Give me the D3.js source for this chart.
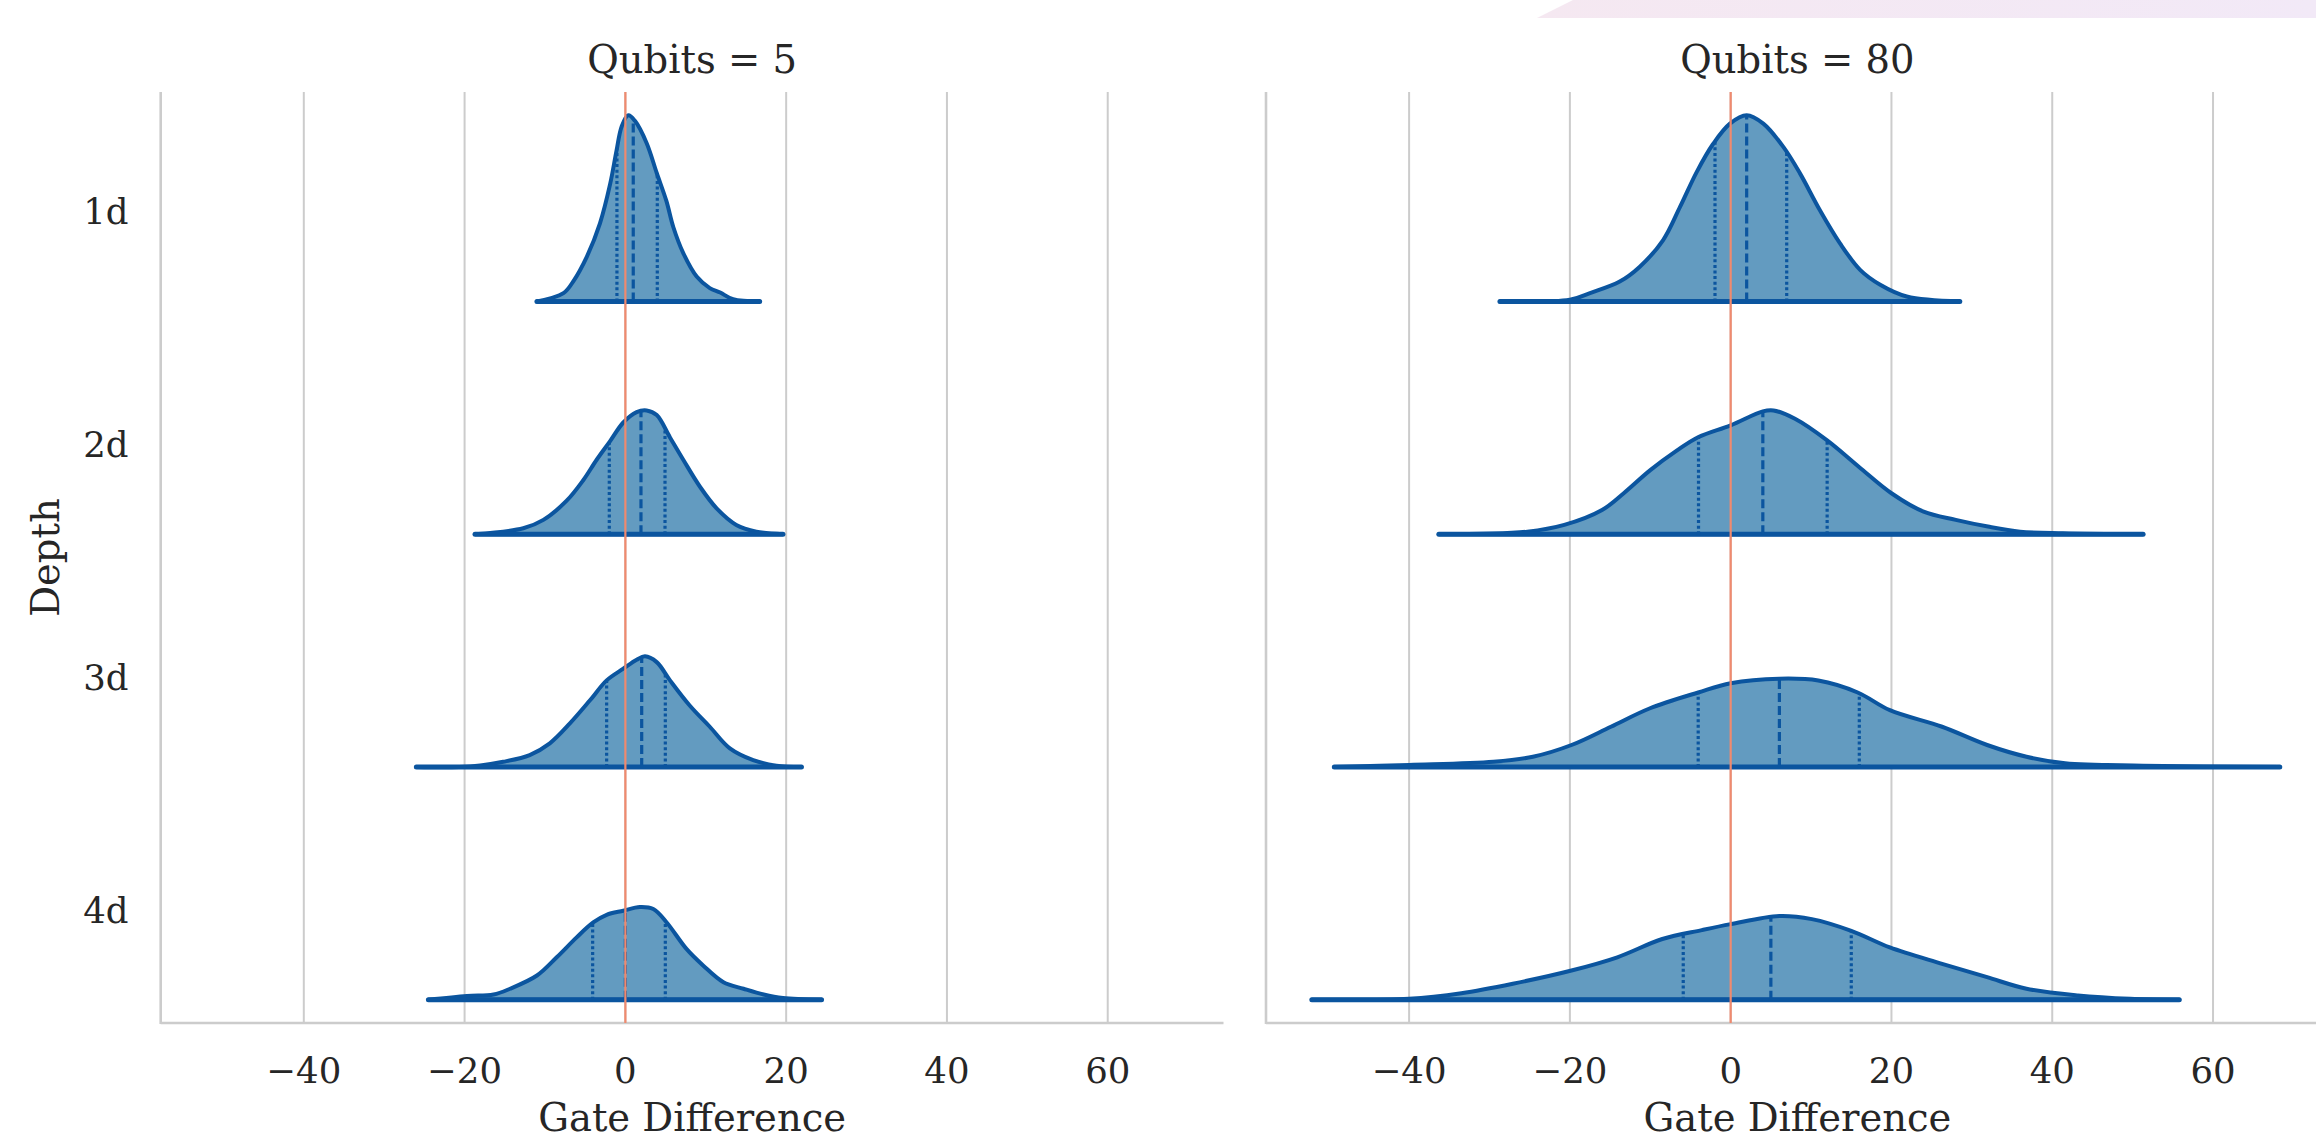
<!DOCTYPE html>
<html>
<head>
<meta charset="utf-8">
<script src="https://cdn.jsdelivr.net/npm/d3@7"></script>
<style>
  body { margin: 0; background: #fff; }
  text { font-family: "DejaVu Serif", serif; fill: #262626; }
</style>
</head>
<body>
<svg id="svg" width="2316" height="1139"></svg>
<script>
var depths = ["1d", "2d", "3d", "4d"];
var titles = ["Qubits = 5", "Qubits = 80"];
var xTicks = [-40, -20, 0, 20, 40, 60];

// violin outlines: [gate difference, relative density]
var q5_1d = [[-11.0,0],[-7.7,0.045],[-6.5,0.107],[-4.8,0.24],[-3.16,0.42],[-1.9,0.63],[-1.1,0.81],[-0.46,0.94],[0.36,1.0],[1.19,0.97],[2.65,0.85],[3.9,0.69],[5.1,0.54],[5.96,0.40],[7.2,0.26],[8.87,0.134],[10.5,0.072],[11.8,0.048],[13.4,0.012],[16.7,0]];
var q5_2d = [[-18.7,0],[-12.7,0.032],[-10.2,0.077],[-7.3,0.18],[-5.24,0.29],[-3.57,0.40],[-1.9,0.50],[-0.26,0.60],[1.4,0.656],[2.65,0.665],[3.9,0.64],[5.55,0.52],[7.2,0.40],[9.28,0.255],[11.35,0.139],[13.8,0.05],[16.3,0.014],[19.6,0]];
var q5_3d = [[-26.0,0],[-19.3,0.002],[-15.2,0.028],[-11.9,0.064],[-9.4,0.127],[-6.9,0.234],[-4.4,0.358],[-2.33,0.465],[-0.26,0.528],[1.4,0.576],[2.44,0.594],[3.9,0.563],[5.55,0.465],[8.0,0.33],[10.5,0.216],[13.0,0.10],[15.9,0.037],[18.8,0.007],[21.9,0]];
var q5_4d = [[-24.5,0],[-19.7,0.02],[-16.4,0.028],[-14.35,0.059],[-11.0,0.13],[-8.54,0.228],[-6.06,0.335],[-4.0,0.415],[-2.33,0.456],[-0.26,0.478],[1.8,0.498],[3.47,0.487],[5.14,0.415],[7.6,0.273],[9.7,0.183],[12.2,0.094],[14.7,0.059],[17.2,0.028],[19.6,0.009],[24.4,0]];

var q80_1d = [[-28.7,0],[-20.0,0.009],[-17.5,0.045],[-13.8,0.107],[-11.3,0.187],[-8.4,0.33],[-6.3,0.508],[-4.23,0.695],[-2.17,0.847],[-0.09,0.955],[1.99,1.0],[4.06,0.955],[6.55,0.83],[8.62,0.688],[11.1,0.49],[13.6,0.312],[16.1,0.17],[18.6,0.09],[21.9,0.027],[28.5,0]];
var q80_2d = [[-36.3,0],[-25.3,0.014],[-20.7,0.05],[-16,0.13],[-13.3,0.22],[-10,0.344],[-6.67,0.45],[-4,0.522],[0,0.585],[4,0.66],[5.33,0.665],[8,0.62],[12,0.504],[16,0.36],[20,0.22],[24,0.121],[28,0.077],[32,0.041],[36,0.014],[41.3,0.005],[51.3,0]];
var q80_3d = [[-49.3,0],[-40,0.011],[-29.5,0.028],[-24.6,0.055],[-19.8,0.118],[-14.9,0.216],[-10.1,0.314],[-4.04,0.40],[0,0.45],[6.06,0.474],[10.9,0.464],[15.8,0.40],[19.8,0.305],[26.3,0.216],[31.9,0.118],[36.8,0.055],[41.6,0.02],[51.3,0.007],[68.3,0]];
var q80_4d = [[-52.1,0],[-40,0.005],[-33.5,0.035],[-27.1,0.086],[-19.8,0.157],[-14.1,0.228],[-8.5,0.326],[-3.6,0.374],[0,0.406],[6.06,0.45],[10.1,0.433],[15,0.37],[19.8,0.281],[26.3,0.193],[31.9,0.121],[36.8,0.059],[43.2,0.023],[49.7,0.005],[55.8,0]];

// [q1, median, q3] per depth
var q5_quart = [[-1.05,0.98,3.97],[-2.0,1.94,4.93],[-2.33,2.03,4.97],[-4.07,0,4.97]];
var q80_quart = [[-1.95,1.99,6.97],[-4,4,12],[-4.04,6.06,16.0],[-5.9,5.0,15.0]];

var violins = [[q5_1d, q5_2d, q5_3d, q5_4d], [q80_1d, q80_2d, q80_3d, q80_4d]];
var quarts = [q5_quart, q80_quart];

var fillCol = "#639bc0", lineCol = "#0b559f", refCol = "#f08a6e";
var panelX = [160.7, 1266];
var yTop = 92, yBottom = 1023;

var svg = d3.select("#svg");

// faint band at top right
var grad = svg.append("defs").append("linearGradient").attr("id", "band");
grad.append("stop").attr("offset", "0%").attr("stop-color", "#f5e8f1");
grad.append("stop").attr("offset", "100%").attr("stop-color", "#f2e9f7");
svg.append("path")
  .attr("d", "M1573,0 L2316,0 L2316,18 L1537,18 Z")
  .attr("fill", "url(#band)");

var x = d3.scaleLinear().domain([-57.8, 74.4]).range([0, 1062.8]);
var y = d3.scaleBand().domain(depths).range([yTop, yBottom]).padding(0);
var bw = y.bandwidth();
var h = d3.scaleLinear().domain([0, 1]).range([0, 0.8 * bw]);

function densAt(pts, v) {
  for (var i = 1; i < pts.length; i++) {
    if (v <= pts[i][0]) {
      var a = pts[i-1], b = pts[i];
      return a[1] + (b[1] - a[1]) * (v - a[0]) / (b[0] - a[0]);
    }
  }
  return 0;
}

titles.forEach(function(t, p) {
  var g = svg.append("g").attr("transform", "translate(" + panelX[p] + ",0)");

  // grid
  g.selectAll(".grid").data(xTicks).enter().append("line")
    .attr("x1", function(d) { return x(d); })
    .attr("x2", function(d) { return x(d); })
    .attr("y1", yTop).attr("y2", yBottom)
    .attr("stroke", "#cccccc").attr("stroke-width", 2);

  // spines
  g.append("line").attr("x1", 0).attr("x2", 0).attr("y1", yTop).attr("y2", yBottom + 1)
    .attr("stroke", "#cccccc").attr("stroke-width", 2.6);
  g.append("line").attr("x1", 0).attr("x2", x.range()[1]).attr("y1", yBottom).attr("y2", yBottom)
    .attr("stroke", "#cccccc").attr("stroke-width", 2.6);

  // x tick labels
  g.selectAll(".xt").data(xTicks).enter().append("text")
    .attr("x", function(d) { return x(d); })
    .attr("y", 1082.5)
    .attr("text-anchor", "middle")
    .attr("font-size", 35.5)
    .text(function(d) { return d < 0 ? "\u2212" + Math.abs(d) : d; });

  g.append("text").attr("x", x.range()[1] / 2).attr("y", 1131)
    .attr("text-anchor", "middle").attr("font-size", 38.5)
    .text("Gate Difference");

  g.append("text").attr("x", x.range()[1] / 2).attr("y", 72.5)
    .attr("text-anchor", "middle").attr("font-size", 38.5)
    .text(t);

  // violins
  depths.forEach(function(dep, i) {
    var base = y(dep) + bw / 2 + 0.4 * bw;
    var pts = violins[p][i];
    var area = d3.area()
      .x(function(d) { return x(d[0]); })
      .y0(base)
      .y1(function(d) { return Math.min(base, base - h(d[1])); })
      .curve(d3.curveCatmullRom.alpha(0.5));
    g.append("path").datum(pts)
      .attr("d", area)
      .attr("fill", fillCol)
      .attr("stroke", lineCol)
      .attr("stroke-width", 4)
      .attr("stroke-linejoin", "round")
      .attr("stroke-linecap", "round");

    // flat side drawn a bit heavier, as in the original
    g.append("line")
      .attr("x1", x(pts[0][0])).attr("x2", x(pts[pts.length - 1][0]))
      .attr("y1", base).attr("y2", base)
      .attr("stroke", lineCol).attr("stroke-width", 5)
      .attr("stroke-linecap", "round");

    quarts[p][i].forEach(function(q, k) {
      g.append("line")
        .attr("x1", x(q)).attr("x2", x(q))
        .attr("y1", base).attr("y2", base - h(densAt(pts, q)))
        .attr("stroke", lineCol)
        .attr("stroke-width", 3.2)
        .attr("stroke-dasharray", k == 1 ? "9,4" : "3,2.6");
    });
  });

  // reference line at zero
  g.append("line").attr("x1", x(0)).attr("x2", x(0)).attr("y1", yTop).attr("y2", yBottom)
    .attr("stroke", refCol).attr("stroke-width", 2.2);
});

// y tick labels, left panel only
svg.selectAll(".yt").data(depths).enter().append("text")
  .attr("x", 128.5)
  .attr("y", function(d) { return y(d) + bw / 2 + 16; })
  .attr("text-anchor", "end")
  .attr("font-size", 35.5)
  .text(function(d) { return d; });

svg.append("text")
  .attr("transform", "translate(59," + (yTop + yBottom) / 2 + ") rotate(-90)")
  .attr("text-anchor", "middle").attr("font-size", 38.5)
  .text("Depth");
</script>
</body>
</html>
